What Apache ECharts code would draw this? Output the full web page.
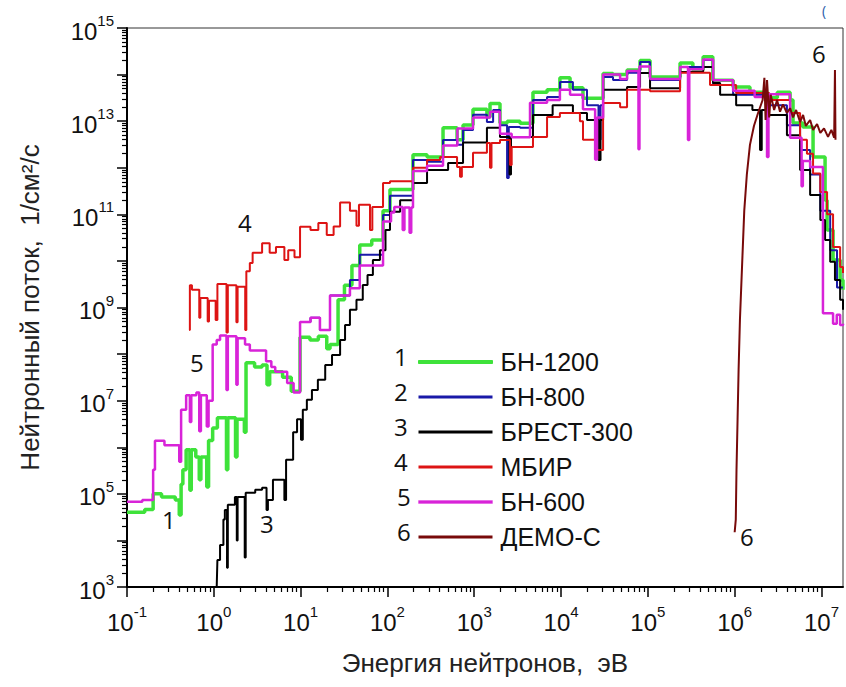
<!DOCTYPE html>
<html>
<head>
<meta charset="utf-8">
<script src="https://cdn.jsdelivr.net/npm/echarts@6/dist/echarts.min.js"></script>
<style>
html,body{margin:0;padding:0;background:#fff;}
#chart{width:846px;height:687px;}
</style>
</head>
<body>
<div id="chart"></div>
<script>
// ---- data: [energy eV, flux 1/cm2/s] ----
const seriesNames = ['БН-1200', 'БН-800', 'БРЕСТ-300', 'МБИР', 'БН-600', 'ДЕМО-С'];
const seriesColors = ['#3ee23a', '#1a1aa8', '#000000', '#dd1414', '#d823d8', '#780a0a'];

const bn1200 = [[0.1,4.0e4],[0.16,4.6e4],[0.2,1.0e5],[0.25,8.6e4],[0.36,7.4e4],[0.40,3.5e4],[0.42,1.6e5],[0.44,3.3e5],[0.48,8.8e5],[0.53,1.2e5],[0.55,8.8e5],[0.62,6.2e5],[0.68,2.0e5],[0.71,6.2e5],[0.83,1.4e5],[0.87,1.4e6],[0.97,2.6e6],[1.1,4.3e6],[1.4,3.3e5],[1.45,4.3e6],[1.78,6.2e5],[1.85,4.0e6],[2.25,2.1e6],[2.35,6.5e7],[2.95,5.3e7],[3.6,5.8e7],[4.1,2.2e7],[4.4,4.2e7],[6.2,3.2e7],[7.8,1.6e7],[9.85,2.3e8],[12.8,2.0e8],[16,2.4e8],[20,1.3e8],[21.8,1.6e8],[27,1.46e9],[32,3.0e9],[39,8.0e9],[48,2.2e10],[66,2.8e10],[89,1.2e11],[107,3.4e11],[197,1.9e12],[286,1.7e12],[437,7.2e12],[634,4.0e12],[743,8.3e12],[968,1.8e13],[1400,1.23e13],[1520,2.4e13],[1980,9.1e12],[2400,1.0e13],[3370,9.0e12],[4750,4.2e13],[6900,4.7e13],[9700,8.5e13],[12700,5.2e13],[17900,3.1e13],[30500,1.05e14],[39700,1.0e14],[57600,1.26e14],[81300,2.0e14],[1.06e5,8.9e13],[2.35e5,1.77e14],[3.3e5,1.26e14],[4.33e5,2.4e14],[5.6e5,7.6e13],[9.6e5,5.4e13],[1.5e6,4.2e13],[2.36e6,3.2e13],[3.1e6,4.2e13],[4.35e6,2.85e13],[4.7e6,9.1e12],[6.1e6,7.5e12],[8.0e6,1.7e12],[1.04e7,1.7e12],[1.1e7,2.0e11],[1.16e7,4.6e10],[1.36e7,1.05e10],[1.64e7,3.9e9],[1.77e7,2.4e9]];

const bn800 = [[9.85,4.9e8],[13,6.0e8],[16.7,3.3e8],[21.8,1.8e9],[37,3.9e9],[48,1.35e10],[89,9.7e10],[107,2.5e11],[197,1.47e12],[286,1.35e12],[437,3.95e12],[634,3.1e12],[743,6.5e12],[968,1.37e13],[1400,9.6e12],[1650,1.74e13],[1980,8.2e12],[2390,6.0e11],[2500,7.5e12],[3370,7.2e12],[4750,2.85e13],[6900,3.3e13],[9730,6.9e13],[13700,4.7e13],[19900,2.2e13],[27000,4.0e12],[28500,2.2e13],[30500,8.9e13],[39700,7.65e13],[57600,1.1e14],[81300,1.86e14],[1.06e5,7.65e13],[2.35e5,1.45e14],[4.33e5,2.05e14],[5.64e5,6.0e13],[9.6e5,3.7e13],[2.36e6,2.2e13],[4.0e6,8.2e12],[5.67e6,2.4e12],[7.4e6,7.2e11],[9.7e6,1.2e11],[1.26e7,1.7e10],[1.51e7,2.7e9],[1.77e7,2.7e9]];

const brest300 = [[1.08,1.0e3],[1.1,3.8e3],[1.18,8.0e3],[1.29,2.8e4],[1.34,4.5e4],[1.42,2.6e3],[1.45,5.8e4],[1.75,8.6e4],[1.84,1.0e4],[1.88,8.6e4],[2.27,4.3e3],[2.33,1.05e5],[3.0,1.22e5],[3.6,1.35e5],[4.05,4.5e4],[4.2,7.4e4],[4.8,2.0e5],[6.5,7.4e4],[6.8,5.4e5],[8.2,2.1e6],[9.1,4.0e6],[10.1,1.44e6],[10.6,6.4e6],[11.8,1.04e7],[13.5,1.7e7],[15.8,2.8e7],[19.2,5.8e7],[23,9.6e7],[28.5,2.0e8],[32.5,4.2e8],[37,8.9e8],[44,1.46e9],[52,3.05e9],[59,5.0e9],[68,1.05e10],[82,1.7e10],[95,4.6e10],[107,1.14e11],[140,2.0e11],[197,4.7e11],[286,8.9e11],[500,1.26e12],[743,3.5e12],[1400,7.2e12],[1980,4.6e12],[2550,7.2e11],[2650,4.6e12],[4750,1.36e13],[8000,2.2e13],[13700,1.5e13],[19900,1.06e13],[27000,1.47e12],[28500,1.06e13],[30500,4.7e13],[57600,5.4e13],[81300,1.08e14],[1.06e5,5.1e13],[2.35e5,1.14e14],[4.33e5,1.45e14],[5.64e5,6.6e13],[6.8e5,3.7e13],[1.04e6,2.2e13],[1.6e6,1.74e13],[1.96e6,2.4e12],[2.05e6,1.74e13],[2.36e6,1.36e13],[4.0e6,5.0e12],[5.67e6,9.0e11],[7.4e6,2.6e11],[9.7e6,7.6e10],[1.1e7,2.8e10],[1.26e7,9.6e9],[1.43e7,3.9e9],[1.64e7,1.46e9],[1.77e7,8.9e8]];

const mbir = [[0.52,3.3e8],[0.53,3.0e9],[0.56,2.4e9],[0.68,6.0e8],[0.7,1.6e9],[0.85,5.0e8],[0.88,1.4e9],[1.05,5.4e8],[1.1,3.2e9],[1.4,2.9e8],[1.45,3.0e9],[1.82,4.8e8],[1.88,2.8e9],[2.3,3.3e8],[2.37,6.0e9],[2.6,9.0e9],[2.8,1.5e10],[3.6,2.4e10],[4.4,1.5e10],[5.2,2.0e10],[6.5,1.05e10],[7.2,1.7e10],[8.5,1.2e10],[9.85,5.4e10],[13,4.6e10],[16,6.5e10],[20,3.6e10],[24,5.5e10],[28.5,1.8e11],[37,1.2e11],[44,5.7e10],[47,1.6e11],[63,4.6e10],[67,1.44e11],[89,4.7e11],[107,5.1e11],[197,1.0e12],[286,1.47e12],[404,1.7e12],[634,1.04e12],[686,6.4e11],[720,1.04e12],[968,2.1e12],[1400,3.4e12],[1520,1.0e12],[1580,3.4e12],[1980,3.95e12],[2585,1.15e12],[2700,2.8e12],[4750,4.6e12],[6900,1.23e13],[9700,1.5e13],[16500,1.0e13],[17900,4.0e12],[24700,2.4e12],[30500,2.46e13],[47900,2.0e13],[57600,4.7e13],[1.06e5,4.4e13],[2.35e5,1.1e14],[4.33e5,1.1e14],[5.2e5,6.0e13],[1.04e6,4.0e13],[2.5e6,2.85e13],[4.35e6,1.5e13],[5.67e6,4.0e12],[6.8e6,2.0e12],[8.0e6,7.5e11],[9.7e6,3.0e11],[1.16e7,1.0e11],[1.36e7,2.0e10],[1.64e7,7.4e9],[1.77e7,5.5e9]];

const bn600 = [[0.1,6.8e4],[0.15,7.4e4],[0.2,3.3e5],[0.21,1.38e6],[0.27,1.1e6],[0.4,4.9e5],[0.42,6.4e6],[0.48,1.3e7],[0.53,3.5e6],[0.55,1.3e7],[0.63,1.5e7],[0.68,2.2e6],[0.71,1.3e7],[0.83,2.8e6],[0.87,1.0e7],[0.97,1.6e8],[1.08,2.0e8],[1.18,2.5e8],[1.4,1.7e7],[1.45,2.4e8],[1.82,2.2e7],[1.88,2.2e8],[2.29,1.6e8],[2.6,1.2e8],[4.0,7.0e7],[4.6,5.3e7],[5.1,4.2e7],[7.0,2.4e7],[8.3,1.5e7],[9.85,4.9e8],[13,6.0e8],[16.7,3.3e8],[21.8,1.8e9],[37,2.6e9],[48,8.0e9],[89,7.0e10],[110,1.1e11],[120,1.44e11],[150,4.6e10],[157,1.4e11],[180,4.0e10],[188,1.4e11],[197,8.5e11],[286,1.1e12],[437,3.0e12],[640,7.0e12],[968,1.2e13],[1520,1.6e13],[1980,5.4e12],[2700,4.5e12],[4390,2.5e13],[6900,2.85e13],[9700,4.7e13],[12700,3.7e13],[17900,1.8e13],[24700,1.5e12],[26000,1.2e13],[30500,1.0e14],[47900,8.0e13],[57600,1.2e14],[78000,2.5e12],[80000,1.5e14],[1.06e5,8.0e13],[2.35e5,1.45e14],[2.9e5,3.95e12],[3.0e5,1.3e14],[4.33e5,2.1e14],[5.64e5,7.6e13],[9.6e5,4.5e13],[1.7e6,3.3e13],[2.36e6,1.7e12],[2.45e6,3.8e13],[4.35e6,4.4e12],[5.9e6,4.0e11],[6.1e6,1.4e12],[7.4e6,1.04e12],[1.04e7,7.5e8],[1.36e7,4.5e8],[1.5e7,7.0e8],[1.64e7,4.2e8],[1.77e7,4.5e8]];

const demoC = [[1.0e6,1.5e4],[1.03e6,2.8e4],[1.05e6,3.3e5],[1.08e6,3.9e6],[1.11e6,4.6e7],[1.15e6,5.4e8],[1.23e6,1.3e10],[1.29e6,1.2e11],[1.38e6,7.0e11],[1.5e6,3.1e12],[1.67e6,8.0e12],[1.86e6,1.5e13],[2.1e6,2.85e13],[2.2e6,8.5e13],[2.27e6,1.06e13],[2.36e6,7.65e13],[2.5e6,1.2e13],[2.6e6,3.7e13],[2.85e6,1.74e13],[3.08e6,2.85e13],[3.33e6,1.6e13],[3.6e6,2.3e13],[4.0e6,1.5e13],[4.35e6,1.9e13],[4.71e6,1.2e13],[5.1e6,1.74e13],[5.67e6,9.6e12],[6.14e6,1.36e13],[6.6e6,7.9e12],[7.4e6,1.06e13],[8.0e6,6.5e12],[8.9e6,8.7e12],[9.7e6,5.6e12],[1.07e7,7.0e12],[1.19e7,4.6e12],[1.3e7,6.5e12],[1.4e7,4.4e12],[1.43e7,1.26e14],[1.45e7,4.0e12]];

const xTickValues = [0.1, 1, 10, 100, 1e3, 1e4, 1e5, 1e6, 1e7];
const yTickValues = [1e3,1e4,1e5,1e6,1e7,1e8,1e9,1e10,1e11,1e12,1e13,1e14,1e15];
const yLabelValues = [1e3, 1e5, 1e7, 1e9, 1e11, 1e13, 1e15];

// ---- helpers ----
function minorTicks(fromExp, toExp) {
  const out = [];
  for (let e = fromExp; e < toExp; e++) {
    for (let m = 2; m <= 9; m++) out.push(+(m * Math.pow(10, e)).toPrecision(3));
  }
  return out;
}
const xMax = 1.77e7;
const yMin = 1e3, yMax = 1.00001e15;
const xMinor = minorTicks(-1, 8).filter(v => v <= xMax);
const yMinor = minorTicks(3, 15);

function expLabel(v) {
  const e = Math.round(Math.log10(v));
  return '{b|10}{s|' + (e < 0 ? '-' + (-e) : e) + '}';
}
const FONT = 'Liberation Sans, Arial, sans-serif';
const labelRich = {
  b: {fontFamily: FONT, fontSize: 24, color: '#111', verticalAlign: 'bottom', lineHeight: 30},
  s: {fontFamily: FONT, fontSize: 15, color: '#111', verticalAlign: 'top', lineHeight: 16}
};

const widths = [3.5, 2, 2, 2, 2.5, 2];
const legendBorder = [1, 0, 0, 0, 0.3, 0];
const allData = [bn1200, bn800, brest300, mbir, bn600, demoC];

const series = allData.map((d, i) => ({
  name: seriesNames[i],
  type: 'line',
  data: d,
  step: i === 5 ? false : 'end',
  symbol: 'none',
  clip: true,
  lineStyle: {color: seriesColors[i], width: widths[i]},
  itemStyle: {color: seriesColors[i]},
  z: [2, 3, 4, 5, 6, 7][i]
}));

const numFont = '24px "Open Sans", sans-serif';
const option = {
  animation: false,
  backgroundColor: '#fff',
  grid: {left: 127, right: 3, top: 28, bottom: 100, show: true, borderColor: '#333', borderWidth: 1},
  xAxis: [{
    type: 'log', logBase: 10, min: 0.1, max: xMax,
    axisLine: {lineStyle: {color: '#000', width: 2}},
    axisTick: {customValues: xTickValues, length: 10, lineStyle: {color: '#000', width: 1.5}},
    axisLabel: {customValues: xTickValues, formatter: expLabel, rich: labelRich, margin: 17},
    splitLine: {show: false},
    name: 'Энергия нейтронов,  эВ', nameLocation: 'middle', nameGap: 63,
    nameTextStyle: {fontFamily: FONT, fontSize: 26, color: '#222'}
  }, {
    type: 'log', logBase: 10, min: 0.1, max: xMax, position: 'bottom',
    axisLine: {show: false},
    axisTick: {customValues: xMinor, length: 5, lineStyle: {color: '#000', width: 1.2}},
    axisLabel: {show: false}, splitLine: {show: false}
  }],
  yAxis: [{
    type: 'log', logBase: 10, min: yMin, max: yMax,
    axisLine: {lineStyle: {color: '#000', width: 2}},
    axisTick: {customValues: yTickValues, length: 10, lineStyle: {color: '#000', width: 1.5}},
    axisLabel: {customValues: yLabelValues, formatter: expLabel, rich: labelRich, margin: 13},
    splitLine: {show: false},
    name: 'Нейтронный поток,  1/см²/с', nameLocation: 'middle', nameGap: 84,
    nameTextStyle: {fontFamily: FONT, fontSize: 26, color: '#222'}
  }, {
    type: 'log', logBase: 10, min: yMin, max: yMax, position: 'left',
    axisLine: {show: false},
    axisTick: {customValues: yMinor, length: 5, lineStyle: {color: '#000', width: 1.2}},
    axisLabel: {show: false}, splitLine: {show: false}
  }],
  legend: {
    orient: 'vertical', left: 413, top: 344,
    icon: 'rect', itemWidth: 74, itemHeight: 3, itemGap: 9,
    textStyle: {fontFamily: FONT, fontSize: 25, color: '#111', lineHeight: 26, padding: [0, 0, 0, 3]},
    data: seriesNames.map((n, i) => ({
      name: n,
      itemStyle: {color: seriesColors[i], borderColor: seriesColors[i], borderWidth: legendBorder[i]}
    })),
    selectedMode: false
  },
  graphic: [
    ...['1','2','3','4','5','6'].map((t, i) => ({
      type: 'text', left: 394 + (i >= 4 ? 3 : 0), top: 344 + i * 35,
      style: {text: t, font: numFont, fill: '#111'}
    })),
    {type: 'text', left: 238, top: 210, style: {text: '4', font: numFont, fill: '#111'}},
    {type: 'text', left: 190, top: 350, style: {text: '5', font: numFont, fill: '#111'}},
    {type: 'text', left: 162, top: 507, style: {text: '1', font: numFont, fill: '#111'}},
    {type: 'text', left: 260, top: 511, style: {text: '3', font: numFont, fill: '#111'}},
    {type: 'text', left: 740, top: 524, style: {text: '6', font: numFont, fill: '#111'}},
    {type: 'text', left: 812, top: 41, style: {text: '6', font: numFont, fill: '#111'}},
    {type: 'text', left: 822, top: 3, style: {text: '(', font: '14px "Open Sans", sans-serif', fill: '#2a5aa8'}}
  ],
  series: series
};

const chart = echarts.init(document.getElementById('chart'), null, {renderer: 'svg'});
chart.setOption(option);
</script>
</body>
</html>
